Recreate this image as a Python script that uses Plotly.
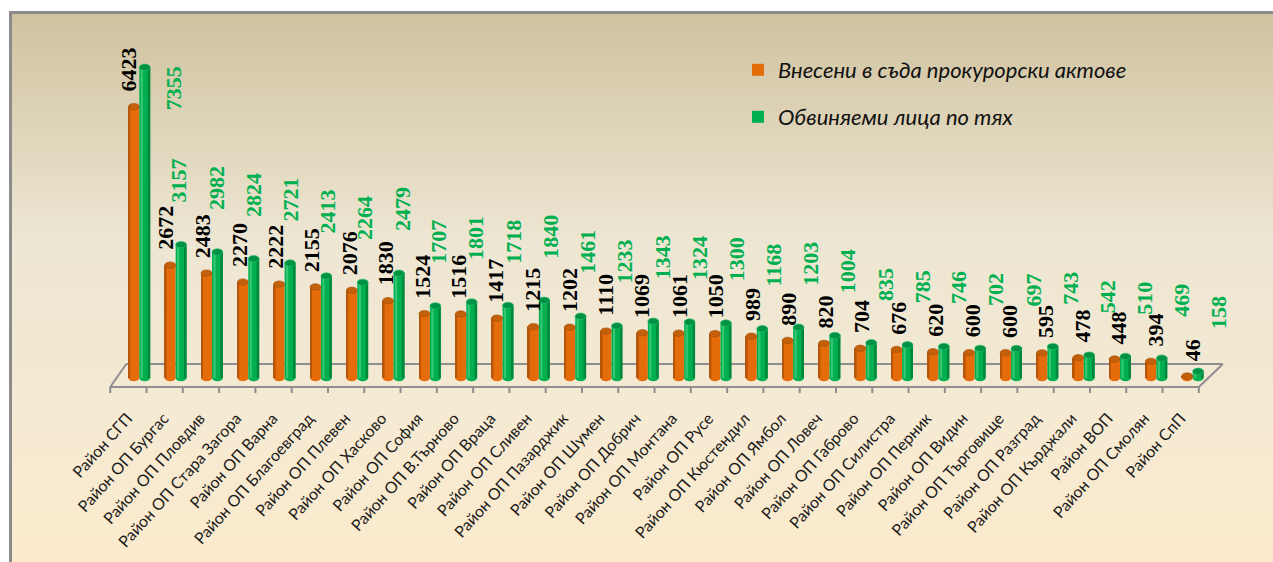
import base64
import plotly.graph_objects as go

# ---------------- data ----------------
categories = [
    "Район СГП", "Район ОП Бургас", "Район ОП Пловдив", "Район ОП Стара Загора",
    "Район ОП Варна", "Район ОП Благоевград", "Район ОП Плевен", "Район ОП Хасково",
    "Район ОП София", "Район ОП В.Търново", "Район ОП Враца", "Район ОП Сливен",
    "Район ОП Пазарджик", "Район ОП Шумен", "Район ОП Добрич", "Район ОП Монтана",
    "Район ОП Русе", "Район ОП Кюстендил", "Район ОП Ямбол", "Район ОП Ловеч",
    "Район ОП Габрово", "Район ОП Силистра", "Район ОП Перник", "Район ОП Видин",
    "Район ОП Търговище", "Район ОП Разград", "Район ОП Кърджали", "Район ВОП",
    "Район ОП Смолян", "Район СпП",
]
acts = [6423, 2672, 2483, 2270, 2222, 2155, 2076, 1830, 1524, 1516, 1417, 1215,
        1202, 1110, 1069, 1061, 1050, 989, 890, 820, 704, 676, 620, 600, 600, 595,
        478, 448, 394, 46]
accused = [7355, 3157, 2982, 2824, 2721, 2413, 2264, 2479, 1707, 1801, 1718, 1840,
           1461, 1233, 1343, 1324, 1300, 1168, 1203, 1004, 835, 785, 746, 702, 697,
           743, 542, 510, 469, 158]
series_names = ["Внесени в съда прокурорски актове", "Обвиняеми лица по тях"]

# ---------------- styling ----------------
W, H = 1273, 562
L, R, T, B = 103, 44, 40, 165
PW, PH = W - L - R, H - T - B
Y_MIN, Y_MAX = -450, 8000
X_MIN, X_MAX = -1, 30
PX_PER_UNIT = PH / (Y_MAX - Y_MIN)

ORANGE, ORANGE_DARK, ORANGE_CAP = "#E46C0A", "#B5560A", "#C2600B"
GREEN, GREEN_DARK, GREEN_CAP, GREEN_LIGHT = "#00B050", "#00873B", "#009244", "#35C772"
GRAY = "#8E8E8E"
BW = 0.3  # bar width in category units


def px_y(px):
    return px / PX_PER_UNIT


def paper_x(px):
    return (px - L) / PW


def paper_y(py):
    return 1 - (py - T) / PH


n = len(categories)
idx = list(range(n))

fig = go.Figure()
fig.add_trace(go.Bar(x=categories, y=acts, offset=-BW, width=BW, name=series_names[0],
                     marker=dict(color=ORANGE, line_width=0), legend="legend"))
fig.add_trace(go.Bar(x=categories, y=acts, offset=-BW, width=0.05, showlegend=False,
                     hoverinfo="skip", marker=dict(color=ORANGE_DARK, line_width=0)))
fig.add_trace(go.Bar(x=categories, y=accused, offset=0, width=BW, name=series_names[1],
                     marker=dict(color=GREEN, line_width=0), legend="legend2"))
fig.add_trace(go.Bar(x=categories, y=accused, offset=0.04, width=0.06, showlegend=False,
                     hoverinfo="skip", marker=dict(color=GREEN_LIGHT, line_width=0)))
fig.add_trace(go.Bar(x=categories, y=accused, offset=BW - 0.07, width=0.07, showlegend=False,
                     hoverinfo="skip", marker=dict(color=GREEN_DARK, line_width=0)))

shapes = []
# 3D floor
fy, by = px_y(-9), px_y(14)
fx0, fx1, bx0, bx1 = -0.80, 29.17, -0.36, 29.83
for (xa, ya, xb, yb) in [(fx0, fy, fx1, fy), (bx0, by, bx1, by),
                         (fx0, fy, bx0, by), (fx1, fy, bx1, by)]:
    shapes.append(dict(type="line", xref="x", yref="y", x0=xa, y0=ya, x1=xb, y1=yb,
                       line=dict(color=GRAY, width=2), layer="below"))
step = (fx1 - fx0) / n
for k in range(n + 1):
    xk = fx0 + k * step
    shapes.append(dict(type="line", xref="x", yref="y", x0=xk, y0=fy, x1=xk, y1=fy - px_y(6),
                       line=dict(color=GRAY, width=2), layer="below"))

cap = px_y(3.2)
for i in idx:
    # rounded bottoms
    shapes.append(dict(type="circle", xref="x", yref="y", x0=i - BW, x1=i, y0=-cap, y1=cap,
                       fillcolor=ORANGE, line_width=0, layer="below"))
    shapes.append(dict(type="circle", xref="x", yref="y", x0=i, x1=i + BW, y0=-cap, y1=cap,
                       fillcolor=GREEN, line_width=0, layer="below"))
    # top caps
    shapes.append(dict(type="circle", xref="x", yref="y", x0=i - BW, x1=i,
                       y0=acts[i] - cap, y1=acts[i] + cap,
                       fillcolor=ORANGE_CAP, line=dict(color="#A84F08", width=0.6), layer="above"))
    shapes.append(dict(type="circle", xref="x", yref="y", x0=i, x1=i + BW,
                       y0=accused[i] - cap, y1=accused[i] + cap,
                       fillcolor=GREEN_CAP, line=dict(color="#2FBF6A", width=0.6), layer="above"))

annotations = []
label_len_px = 44
val_font = 22
for i in idx:
    frac = i / (n - 1)
    annotations.append(dict(x=i - BW / 2, y=acts[i], xref="x", yref="y", text=str(acts[i]),
                            textangle=-90, showarrow=False, yanchor="bottom", xanchor="center",
                            yshift=13, xshift=-5 + 10 * frac,
                            font=dict(family="Liberation Serif", size=val_font, color="#000000",
                                      weight="bold")))
    top_px = T + (Y_MAX - accused[i]) * PX_PER_UNIT
    if top_px - 40 - label_len_px < T - 20:
        # not enough room above the bar: put the label beside it
        annotations.append(dict(x=i + 0.93, y=accused[i], xref="x", yref="y",
                                text=str(accused[i]), textangle=-90, showarrow=False,
                                yanchor="top", xanchor="center", yshift=3,
                                font=dict(family="Liberation Serif", size=val_font, color=GREEN,
                                          weight="bold")))
    else:
        annotations.append(dict(x=i + BW / 2, y=accused[i], xref="x", yref="y",
                                text=str(accused[i]), textangle=-90, showarrow=False,
                                yanchor="bottom", xanchor="center",
                                yshift=40, xshift=-3 + 24 * frac,
                                font=dict(family="Liberation Serif", size=val_font, color=GREEN,
                                          weight="bold")))

# background (gradient panel with grey frame)
bx_px, by_px = 9, 11
bw_px, bh_px = 1300 - bx_px, 600 - by_px
vis = (H - by_px) / bh_px
svg = (
    f'<svg xmlns="http://www.w3.org/2000/svg" width="{bw_px}" height="{bh_px}" '
    f'viewBox="0 0 {bw_px} {bh_px}" preserveAspectRatio="none">'
    '<defs><linearGradient id="g" x1="0" y1="0" x2="0" y2="1">'
    f'<stop offset="0" stop-color="#CFC29F"/>'
    f'<stop offset="{0.40 * vis:.3f}" stop-color="#EDE6D2"/>'
    f'<stop offset="{0.70 * vis:.3f}" stop-color="#F5EAD3"/>'
    f'<stop offset="{vis:.3f}" stop-color="#FDEBCC"/>'
    '<stop offset="1" stop-color="#FDEBCC"/>'
    '</linearGradient></defs>'
    f'<rect x="1.5" y="1.5" width="{bw_px + 20}" height="{bh_px + 20}" fill="url(#g)" '
    'stroke="#8C8C8C" stroke-width="3"/></svg>'
)
svg_uri = "data:image/svg+xml;base64," + base64.b64encode(svg.encode("utf-8")).decode("ascii")

legend_font = dict(family="Lato", size=22, color="#111111", style="italic")
fig.update_layout(
    width=W, height=H,
    margin=dict(l=L, r=R, t=T, b=B, autoexpand=False),
    paper_bgcolor="#FFFFFF", plot_bgcolor="rgba(0,0,0,0)",
    barmode="overlay",
    shapes=shapes, annotations=annotations,
    images=[dict(source=svg_uri, xref="paper", yref="paper",
                 x=paper_x(bx_px), y=paper_y(by_px),
                 sizex=bw_px / PW, sizey=bh_px / PH,
                 xanchor="left", yanchor="top", sizing="stretch", layer="below")],
    legend=dict(x=paper_x(738), y=paper_y(49), xanchor="left", yanchor="top",
                bgcolor="rgba(0,0,0,0)", font=legend_font),
    legend2=dict(x=paper_x(738), y=paper_y(96), xanchor="left", yanchor="top",
                 bgcolor="rgba(0,0,0,0)", font=legend_font),
    xaxis=dict(type="category", range=[X_MIN, X_MAX], showgrid=False, zeroline=False,
               showline=False, ticks="", tickangle=-48, ticklabelstandoff=8,
               ticklabelshift=-12,
               tickfont=dict(family="Lato", size=16, color="#1A1A1A")),
    yaxis=dict(range=[Y_MIN, Y_MAX], visible=False, showgrid=False, zeroline=False),
    showlegend=True,
)

fig.write_html("out.html", config={"displayModeBar": False},
               post_script="document.body.style.margin='0';document.body.style.overflow='hidden';")
